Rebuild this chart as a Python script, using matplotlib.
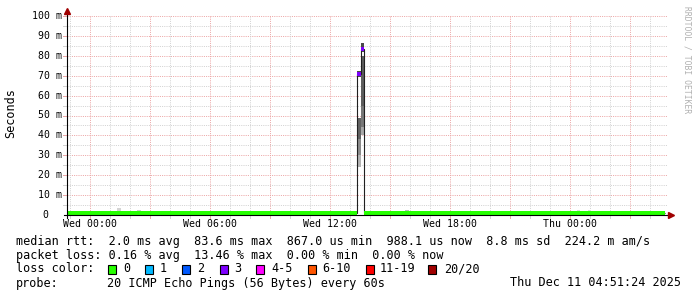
import matplotlib
matplotlib.use('Agg')
import matplotlib.pyplot as plt
from matplotlib.patches import Rectangle
import numpy as np

W, H = 697, 297

# time axis: hours relative to Wed 00:00
t_start = -1.143
t_end = 28.857
tick_hours = [0, 6, 12, 18, 24]
tick_names = ['Wed 00:00', 'Wed 06:00', 'Wed 12:00', 'Wed 18:00', 'Thu 00:00']

# median rtt as steps (edges in hours, values in ms) and lost pings per step
edges = [-1.15, 0.1, 0.55, 1.9, 4.75, 5.15, 5.9, 6.15, 6.75, 7.15, 7.35, 7.55, 7.75,
         10.5, 12.35, 13.35, 13.55, 13.7, 15.55, 15.75, 28.75]
median_ms = [1.2, 0.8, 1.2, 0.8, 1.2, 0.8, 1.2, 0.8, 1.2, 0.8, 1.2, 0.8, 1.2,
             0.8, 1.2, 70.7, 83.2, 1.2, 0.8, 1.2]
loss_idx = [0, 0, 0, 0, 0, 0, 0, 0, 0, 0, 0, 0, 0, 0, 0, 3, 3, 0, 0, 0]

# smoke (ping spread) bands
smoke_t0 = [1.36, 2.36, 13.35, 13.35, 13.35, 13.35, 13.55, 13.55, 13.55, 13.55, 15.75, 24.35, 24.9]
smoke_t1 = [1.56, 2.56, 13.55, 13.55, 13.55, 13.55, 13.7, 13.7, 13.7, 13.7, 15.95, 24.5, 25.05]
smoke_lo = [0.5, 0.5, 24.0, 30.0, 38.0, 69.5, 40.0, 44.0, 55.0, 82.0, 0.5, 0.5, 0.5]
smoke_hi = [3.6, 2.4, 30.0, 38.0, 48.5, 72.3, 44.0, 55.0, 80.0, 86.5, 2.4, 2.3, 2.3]
smoke_grey = ['#d4d4d4', '#cccccc', '#b4b4b4', '#8c8c8c', '#636363', '#4a4a4a',
              '#a8a8a8', '#787878', '#5e5e5e', '#4a4a4a', '#bbbbbb', '#dddddd', '#dddddd']

loss_labels = ['0', '1', '2', '3', '4-5', '6-10', '11-19', '20/20']
loss_colors = ['#26ff00', '#00b8ff', '#0059ff', '#7e00ff', '#ff00ff', '#ff5500', '#ff0000', '#a10000']

legend_lines = [
    'median rtt:  2.0 ms avg  83.6 ms max  867.0 us min  988.1 us now  8.8 ms sd  224.2 m am/s',
    'packet loss: 0.16 % avg  13.46 % max  0.00 % min  0.00 % now',
]
probe_text = '20 ICMP Echo Pings (56 Bytes) every 60s'
stamp_text = 'Thu Dec 11 04:51:24 2025'

plt.rcParams['font.family'] = ['DejaVu Sans Mono']
MGRID = '#eca6a6'
GRID = '#d2d2d2'
ARROW = '#a00000'


def px(x, y):
    return x / W, 1 - y / H


fig = plt.figure(figsize=(W / 100, H / 100), dpi=100)
fig.patch.set_facecolor('white')
ax = fig.add_axes([67 / W, 82 / H, 600 / W, 199 / H])
ax.set_xlim(t_start, t_end)
ax.set_ylim(0, 100)
for s in ax.spines.values():
    s.set_visible(False)
ax.set_xticks([])
ax.set_yticks([])

# grid
for v in range(5, 101, 5):
    major = v % 10 == 0
    ax.axhline(v, color=MGRID if major else GRID, lw=0.72, dashes=(1, 1.2), zorder=0)
    ax.plot([-0.006, 0], [v / 100, v / 100], transform=ax.transAxes, clip_on=False,
            color=MGRID if major else GRID, lw=0.72)
for h in range(int(np.ceil(t_start)), int(t_end) + 1):
    major = h % 3 == 0
    ax.axvline(h, color=MGRID if major else GRID, lw=0.72, dashes=(1, 1.2), zorder=0)
    xf = (h - t_start) / (t_end - t_start)
    ax.plot([xf, xf], [0, -0.015], transform=ax.transAxes, clip_on=False,
            color=MGRID if major else GRID, lw=0.72)

# smoke
ax.bar(smoke_t0, np.subtract(smoke_hi, smoke_lo), width=np.subtract(smoke_t1, smoke_t0),
       bottom=smoke_lo, align='edge', color=smoke_grey, lw=0, zorder=2)

# median line
ax.stairs(median_ms, edges, baseline=None, color='#202020', lw=0.8, zorder=3)

# loss coloured median band
half = 1.0
ax.bar(edges[:-1], 2 * half, width=np.diff(edges), bottom=np.array(median_ms) - half,
       align='edge', color=[loss_colors[i] for i in loss_idx], lw=0, zorder=4)

# axes with arrows
ax.plot([-0.005, 1.003], [0, 0], transform=ax.transAxes, clip_on=False, color='black', lw=0.8, zorder=5)
ax.plot([0, 0], [-0.015, 1.02], transform=ax.transAxes, clip_on=False, color='black', lw=0.8, zorder=5)
ax.plot([1.006], [0], marker='>', ms=3.8, color=ARROW, transform=ax.transAxes, clip_on=False, zorder=6)
ax.plot([0], [1.027], marker='^', ms=3.8, color=ARROW, transform=ax.transAxes, clip_on=False, zorder=6)

# tick labels
for h, name in zip(tick_hours, tick_names):
    xp = 67 + (h - t_start) / (t_end - t_start) * 600
    fig.text(*px(xp, 224), name, ha='center', va='center', fontsize=7.1)
for v in range(10, 101, 10):
    yp = 215 - v * 1.99
    fig.text(*px(62, yp), '%d m' % v, ha='right', va='center', fontsize=7.1)
fig.text(*px(48.5, 215), '0', ha='right', va='center', fontsize=7.1)

fig.text(*px(10.5, 113.5), 'Seconds', rotation=90, ha='center', va='center', fontsize=8.5)
fig.text(*px(687, 60), 'RRDTOOL / TOBI OETIKER', rotation=270, ha='center', va='center',
         fontsize=5.8, color='#b0b0b0')

# legend
fig.text(*px(16, 241), legend_lines[0], ha='left', va='center', fontsize=8.5)
fig.text(*px(16, 255), legend_lines[1], ha='left', va='center', fontsize=8.5)
fig.text(*px(16, 269), 'loss color:', ha='left', va='center', fontsize=8.5)
box_x = [108, 145.3, 182.2, 219.6, 256.4, 307.6, 365.8, 428]
lab_x = [123.6, 160, 196.9, 234.2, 271.1, 321.8, 380, 444.4]
for bx, lx, lab, col in zip(box_x, lab_x, loss_labels, loss_colors):
    x0, y0 = px(bx, 273.5)
    fig.patches.append(Rectangle((x0, y0), 8 / W, 9 / H, transform=fig.transFigure,
                                 facecolor=col, edgecolor='black', lw=0.8))
    fig.text(*px(lx, 269), lab, ha='left', va='center', fontsize=8.5)
fig.text(*px(16, 283), 'probe:', ha='left', va='center', fontsize=8.5)
fig.text(*px(107, 283), probe_text, ha='left', va='center', fontsize=8.5)
fig.text(*px(681, 283), stamp_text, ha='right', va='center', fontsize=8.5)

fig.savefig('out.png', dpi=100)
